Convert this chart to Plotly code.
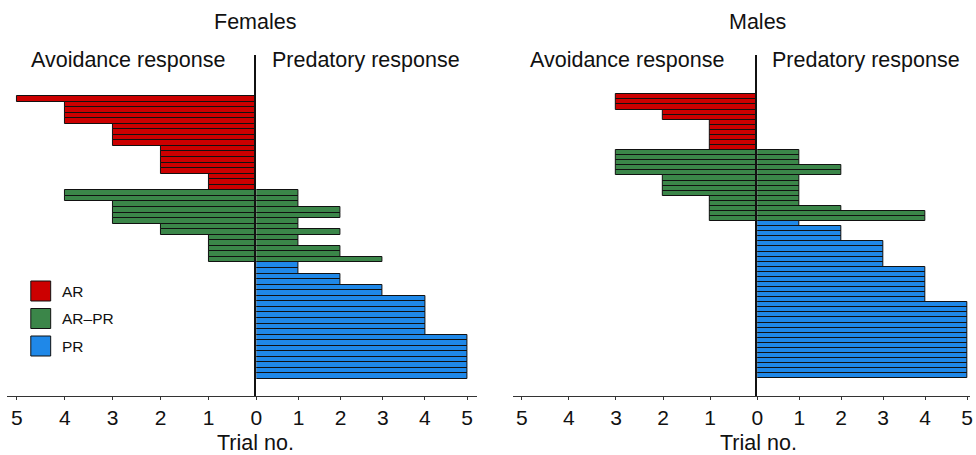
import plotly.graph_objects as go

# ---------------- data ----------------
# Females: one row per individual, top to bottom
fem_group = (["AR"] * 17) + (["AR-PR"] * 13) + (["PR"] * 21)
fem_avoid = [5, 4, 4, 4, 4, 3, 3, 3, 3, 2, 2, 2, 2, 2, 1, 1, 1,
             4, 4, 3, 3, 3, 3, 2, 2, 1, 1, 1, 1, 1,
             0, 0, 0, 0, 0, 0, 0, 0, 0, 0, 0, 0, 0, 0, 0, 0, 0, 0, 0, 0, 0]
fem_pred = [0, 0, 0, 0, 0, 0, 0, 0, 0, 0, 0, 0, 0, 0, 0, 0, 0,
            1, 1, 1, 2, 2, 1, 1, 2, 1, 1, 2, 2, 3,
            1, 1, 2, 2, 3, 3, 4, 4, 4, 4, 4, 4, 4, 5, 5, 5, 5, 5, 5, 5, 5]

# Males
mal_group = (["AR"] * 11) + (["AR-PR"] * 14) + (["PR"] * 31)
mal_avoid = [3, 3, 3, 2, 2, 1, 1, 1, 1, 1, 1,
             3, 3, 3, 3, 3, 2, 2, 2, 2, 1, 1, 1, 1, 1,
             0, 0, 0, 0, 0, 0, 0, 0, 0, 0, 0, 0, 0, 0, 0, 0,
             0, 0, 0, 0, 0, 0, 0, 0, 0, 0, 0, 0, 0, 0, 0]
mal_pred = [0, 0, 0, 0, 0, 0, 0, 0, 0, 0, 0,
            1, 1, 1, 2, 2, 1, 1, 1, 1, 1, 1, 2, 4, 4,
            1, 2, 2, 2, 3, 3, 3, 3, 3, 4, 4, 4, 4, 4, 4, 4,
            5, 5, 5, 5, 5, 5, 5, 5, 5, 5, 5, 5, 5, 5, 5]

tick_vals_left = [5, 4, 3, 2, 1, 0]
tick_vals_right = [1, 2, 3, 4, 5]
group_names = ["AR", "AR-PR", "PR"]
legend_labels = ["AR", "AR\u2013PR", "PR"]

# ---------------- style ----------------
colors = {"AR": "#CC0000", "AR-PR": "#3B8649", "PR": "#1F88E8"}
W, H = 976, 455
FONT = "Liberation Sans, Arial, sans-serif"
TXT = "#111111"
AX = "#333333"


def fx(p):
    return p / W


def fy(p):
    return 1 - p / H


fig = go.Figure()


def add_side(values, groups, xaxis, yaxis):
    ys, xs, cs = [], [], []
    for i, (v, g) in enumerate(zip(values, groups)):
        if v > 0:
            ys.append(i)
            xs.append(v)
            cs.append(colors[g])
    fig.add_trace(go.Bar(
        x=xs, y=ys, orientation="h", base=0, width=1,
        marker=dict(color=cs, line=dict(color="#111111", width=1)),
        xaxis=xaxis, yaxis=yaxis, showlegend=False, hoverinfo="x+y"))


add_side(fem_avoid, fem_group, "x", "y")
add_side(fem_pred, fem_group, "x2", "y")
add_side(mal_avoid, mal_group, "x3", "y2")
add_side(mal_pred, mal_group, "x4", "y2")

# pixel layout
AX_TOP, AX_BOT = 55, 396


def yrange(n, top, bot):
    h = (bot - top) / n
    return [(AX_BOT - top) / h - 0.5, (AX_TOP - top) / h - 0.5]


xcommon = dict(showline=True, linecolor=AX, linewidth=1, ticks="outside",
               ticklen=3, tickcolor=AX, showgrid=False, zeroline=False,
               tickfont=dict(family=FONT, size=21, color=TXT), fixedrange=True)

fig.update_layout(
    width=W, height=H, autosize=False, margin=dict(l=0, r=0, t=0, b=0),
    paper_bgcolor="white", plot_bgcolor="white",
    barmode="overlay", bargap=0,
    font=dict(family=FONT, color=TXT),
    xaxis=dict(domain=[fx(7), fx(258)], range=[5.207, 0], anchor="y",
               tickvals=tick_vals_left, **xcommon),
    xaxis2=dict(domain=[fx(258), fx(480)], range=[0, 5.236], anchor="y",
                tickvals=tick_vals_right, **xcommon),
    xaxis3=dict(domain=[fx(516), fx(762)], range=[5.19, 0], anchor="y2",
                tickvals=tick_vals_left, **xcommon),
    xaxis4=dict(domain=[fx(762), 1.0], range=[0, 5.07], anchor="y2",
                tickvals=tick_vals_right, **xcommon),
    yaxis=dict(domain=[fy(AX_BOT), fy(AX_TOP)], anchor="x2",
               range=yrange(len(fem_group), 96, 379),
               showline=True, linecolor="#111111", linewidth=1.5,
               showticklabels=False, ticks="", showgrid=False, zeroline=False),
    yaxis2=dict(domain=[fy(AX_BOT), fy(AX_TOP)], anchor="x4",
                range=yrange(len(mal_group), 94.3, 378.3),
                showline=True, linecolor="#111111", linewidth=1.5,
                showticklabels=False, ticks="", showgrid=False, zeroline=False),
)

ann = []


def text(x, y, s, size=21.5, xanchor="center"):
    ann.append(dict(x=fx(x), y=fy(y), xref="paper", yref="paper", text=s,
                    showarrow=False, xanchor=xanchor, yanchor="middle",
                    font=dict(family=FONT, size=size, color=TXT)))


text(257, 22, "Females")
text(762, 22, "Males")
text(129, 60, "Avoidance response")
text(368, 60, "Predatory response")
text(631, 60, "Avoidance response")
text(871, 60, "Predatory response")
text(257, 443, "Trial no.")
text(763, 443, "Trial no.")

shapes = []
for k, (g, lab) in enumerate(zip(group_names, legend_labels)):
    cy = 291 + k * 27.5
    shapes.append(dict(type="rect", xref="paper", yref="paper",
                       x0=fx(31), x1=fx(51), y0=fy(cy + 10), y1=fy(cy - 10),
                       fillcolor=colors[g], line=dict(color="#111111", width=1)))
    text(60, cy, lab, size=15.5, xanchor="left")

fig.update_layout(annotations=ann, shapes=shapes)
fig.write_html(
    "out.html",
    config={"responsive": False, "displayModeBar": False},
)
